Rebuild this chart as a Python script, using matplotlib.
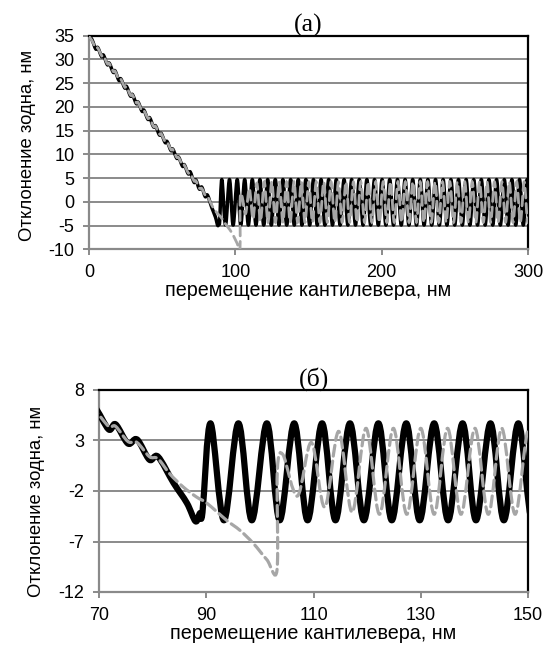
import numpy as np
import matplotlib
matplotlib.use("Agg")
import matplotlib.pyplot as plt
from matplotlib.path import Path
from matplotlib.patches import PathPatch

# ---------------- data ----------------
# approach part of the probe deflection (black, solid)
approach_x = [0.0, 2.0, 4.6, 6.0, 8.6, 9.9, 12.5, 13.9, 16.5, 17.8, 20.4, 21.8, 24.4, 25.7,
              28.3, 29.7, 32.3, 33.6, 36.2, 37.6, 40.2, 41.5, 44.1, 45.5, 48.1, 49.4, 52.0,
              53.4, 56.0, 57.3, 59.9, 61.3, 63.9, 65.2, 67.8, 69.2, 71.8, 73.1, 75.4, 77.1,
              79.4, 81.0, 83.9, 86.4, 88.0, 88.8, 89.3]
approach_y = [35.0, 34.2, 32.2, 32.5, 30.6, 30.9, 28.9, 29.2, 27.3, 27.6, 25.6, 25.9, 24.0, 24.3,
              22.3, 22.6, 20.7, 21.0, 19.1, 19.3, 17.4, 17.7, 15.8, 16.0, 14.1, 14.4, 12.5,
              12.7, 10.8, 11.1, 9.2, 9.4, 7.5, 7.8, 5.9, 6.3, 4.1, 4.6, 2.7, 3.1,
              1.1, 1.4, -1.2, -3.2, -5.0, -4.2, -4.1]

# black oscillation extrema after snap-in
black_osc_x = [90.8, 93.3, 96.0, 98.5, 101.3, 103.7, 106.4, 108.9, 111.6, 114.1, 116.8, 119.4,
               122.1, 124.6, 127.3, 129.8, 132.5, 135.1, 137.8, 140.3, 143.0, 145.5, 148.2,
               150.8, 153.4, 156.0, 158.6, 161.2, 163.8, 166.4, 169.0, 171.6, 174.3, 176.9,
               179.5, 182.1, 184.7, 187.3, 189.9, 192.5, 195.1, 197.7, 200.3, 202.9, 205.5,
               208.1, 210.8, 213.4, 216.0, 218.6, 221.2, 223.8, 226.4, 229.0, 231.6, 234.2,
               236.8, 239.4, 242.0, 244.6, 247.3, 249.9, 252.5, 255.1, 257.7, 260.3, 262.9,
               265.5, 268.1, 270.7, 273.3, 275.9, 278.5, 281.1, 283.8, 286.4, 289.0, 291.6,
               294.2, 296.8, 299.4, 302.0]
black_osc_y = [4.7, -4.9] * 41

# grey dashed curve: approach
grey_app_x = [0.0, 2.0, 4.6, 6.0, 8.6, 9.9, 12.5, 13.9, 16.5, 17.8, 20.4, 21.8, 24.4, 25.7,
              28.3, 29.7, 32.3, 33.6, 36.2, 37.6, 40.2, 41.5, 44.1, 45.5, 48.1, 49.4, 52.0,
              53.4, 56.0, 57.3, 59.9, 61.3, 63.9, 65.2, 67.8, 69.2, 71.8, 73.1, 75.4, 77.1,
              79.4, 81.0, 83.2, 85.7, 88.2, 90.1, 93.8, 96.3, 98.8, 101.3, 103.2, 103.25]
grey_app_y = [34.8, 34.0, 32.4, 32.4, 30.8, 30.8, 29.1, 29.1, 27.5, 27.5, 25.8, 25.8, 24.2, 24.2,
              22.5, 22.5, 20.9, 20.9, 19.2, 19.2, 17.6, 17.6, 15.9, 15.9, 14.3, 14.3, 12.7,
              12.6, 11.0, 11.0, 9.4, 9.3, 7.7, 7.7, 6.1, 6.0, 4.4, 4.4, 2.9, 2.8,
              1.4, 1.2, -0.3, -1.6, -2.6, -3.2, -4.9, -5.9, -7.2, -8.8, -9.8, 0.0]
# grey dashed oscillation extrema
grey_osc_x = [104.3, 107.0, 109.6, 112.1, 114.7, 117.2, 119.8, 122.3, 124.9, 127.4, 130.0,
              132.5, 135.0, 137.5, 140.1, 142.6, 145.1, 147.6, 150.2, 152.7, 155.3, 157.8,
              160.4, 162.9, 165.4, 168.0, 170.5, 173.0, 175.6, 178.1, 180.7, 183.2, 185.7,
              188.3, 190.8, 193.3, 195.9, 198.4, 201.0, 203.5, 206.0, 208.6, 211.1, 213.6,
              216.2, 218.7, 221.3, 223.8, 226.3, 228.9, 231.4, 233.9, 236.5, 239.0, 241.6,
              244.1, 246.6, 249.2, 251.7, 254.2, 256.8, 259.3, 261.9, 264.4, 266.9, 269.5,
              272.0, 274.5, 277.1, 279.6, 282.2, 284.7, 287.2, 289.8, 292.3, 294.8, 297.4,
              299.9, 302.5]
grey_osc_y = [1.6, -2.5, 2.8, -3.6, 3.9, -4.1] + [4.2, -4.3] * 36 + [4.2]

# axes settings
xticks_a = [0, 100, 200, 300]
yticks_a = [-10, -5, 0, 5, 10, 15, 20, 25, 30, 35]
xticks_b = [70, 90, 110, 130, 150]
yticks_b = [-12, -7, -2, 3, 8]
xlabel = "перемещение кантилевера, нм"
ylabel = "Отклонение зодна, нм"
titles = ["(а)", "(б)"]

# ---------------- drawing ----------------
plt.rcParams['font.family'] = ['Liberation Sans', 'DejaVu Sans']

def smooth_path(xs, ys):
    pts = np.column_stack([xs, ys]).astype(float)
    n = len(pts)
    verts = [pts[0]]
    codes = [Path.MOVETO]
    for i in range(n - 1):
        p0 = pts[i - 1] if i > 0 else pts[i]
        p1 = pts[i]
        p2 = pts[i + 1]
        p3 = pts[i + 2] if i + 2 < n else pts[i + 1]
        c1 = p1 + (p2 - p0) / 6.0
        c2 = p2 - (p3 - p1) / 6.0
        verts += [c1, c2, p2]
        codes += [Path.CURVE4] * 3
    return Path(np.array(verts), codes)

black_x = approach_x + black_osc_x
black_y = approach_y + black_osc_y
grey_x = grey_app_x + grey_osc_x
grey_y = grey_app_y + grey_osc_y

GRID = '#8a8a8a'
GREY = '#a6a6a6'

fig = plt.figure(figsize=(5.5, 6.48), dpi=100)
ax1 = fig.add_axes([89 / 550, 1 - 249.3 / 648, (528 - 89) / 550, (249.3 - 35.7) / 648])
ax2 = fig.add_axes([99 / 550, 1 - 592 / 648, (528 - 99) / 550, (592 - 390) / 648])

def style(ax, xt, yt, title, ylc, ty):
    ax.set_xlim(xt[0], xt[-1])
    ax.set_ylim(yt[0], yt[-1])
    ax.set_xticks(xt)
    ax.set_yticks(yt)
    ax.set_xticklabels([str(v) for v in xt])
    ax.set_yticklabels([str(v) for v in yt])
    ax.grid(axis='y', color=GRID, lw=1.4, zorder=0)
    ax.set_axisbelow(True)
    for s in ['left', 'bottom']:
        ax.spines[s].set_color(GRID)
        ax.spines[s].set_linewidth(1.6)
    for s in ['top', 'right']:
        ax.spines[s].set_color('black')
        ax.spines[s].set_linewidth(1.6)
    ax.tick_params(axis='both', direction='out', length=4.5, width=1.4, color=GRID,
                   labelsize=13, pad=6)
    ax.set_xlabel(xlabel, fontsize=14.2, labelpad=0)
    ax.set_ylabel(ylabel, fontsize=13.3)
    ax.yaxis.set_label_coords(ylc[0], ylc[1])
    ax.text(0.5, ty, title, transform=ax.transAxes, ha='center', va='center',
            family=['Liberation Serif', 'DejaVu Serif'], fontsize=18.5)

style(ax1, xticks_a, yticks_a, titles[0], (-0.121, 0.484), 1.050)
style(ax2, xticks_b, yticks_b, titles[1], (-0.126, 0.447), 1.054)

for ax, lw_b, lw_g, dash in [(ax1, 2.5, 2.0, (0, (3.5, 2.0))), (ax2, 4.5, 2.3, (0, (3.4, 1.6)))]:
    pb = PathPatch(smooth_path(black_x, black_y), fill=False, edgecolor='black', lw=lw_b,
                   transform=ax.transData, zorder=3, joinstyle='round', capstyle='round')
    ax.add_patch(pb)
    pg = PathPatch(smooth_path(grey_x, grey_y), fill=False, edgecolor=GREY, lw=lw_g,
                   linestyle=dash, transform=ax.transData, zorder=4, capstyle='round')
    ax.add_patch(pg)

fig.savefig('out.png', dpi=100)
